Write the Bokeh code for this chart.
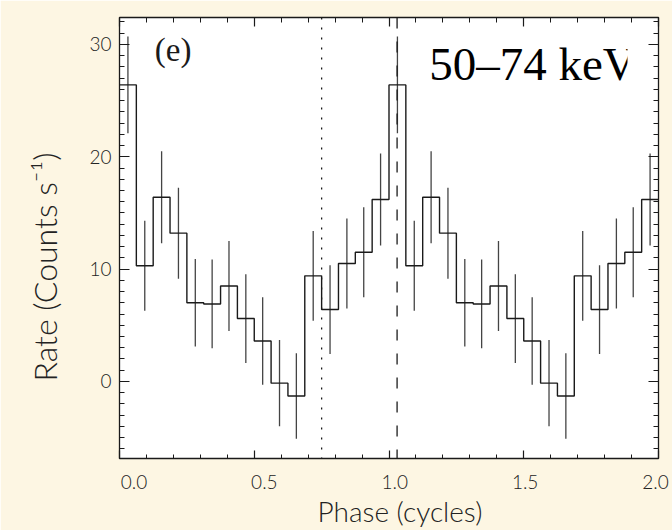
import numpy as np
from bokeh.plotting import figure
from bokeh.models import (Range1d, LinearAxis, FixedTicker, Span, Label, Title,
                          BoxAnnotation, ColumnDataSource, CustomLabelingPolicy)
from bokeh.embed import file_html
from bokeh.resources import INLINE

# ---- data (one pulse cycle, 16 phase bins; shown twice) ----
rate = [26.4, 10.3, 16.4, 13.2, 7.0, 6.9, 8.5, 5.6,
        3.6, -0.15, -1.3, 9.4, 6.4, 10.5, 11.5, 16.2]
rate_err = [4.3, 4.0, 4.1, 4.05, 3.9, 3.95, 4.0, 3.95,
            3.9, 3.85, 3.8, 4.0, 3.95, 4.0, 4.0, 4.1]
n_cycles = 2
marker_phase = [0.75, 1.03]          # dotted, dashed reference lines
x_tick_values = [0.0, 0.5, 1.0, 1.5, 2.0]
x_tick_labels = ["0.0", "0.5", "1.0", "1.5", "2.0"]
y_tick_values = [0, 10, 20, 30]
x_title = "Phase (cycles)"
y_title = "Rate (Counts s\u207b\u00b9)"
panel_label = "(e)"
band_label = "50\u201374 keV"

# ---- derived ----
nb = len(rate)
vals = np.tile(rate, n_cycles)
errs = np.tile(rate_err, n_cycles)
edges = np.arange(nb * n_cycles + 1) / nb
centers = (np.arange(nb * n_cycles) + 0.5) / nb

CREAM = "#fdf6e3"
INK = "#1a1a1a"
TXT = "#222222"
SANS = "Lato Light"
SERIF = "Liberation Serif"

p = figure(width=672, height=530, output_backend="svg", toolbar_location=None,
           x_range=Range1d(0, 2), y_range=Range1d(-6.86, 32.4),
           x_axis_location=None, y_axis_location=None,
           min_border_left=118, min_border_right=14,
           min_border_top=17, min_border_bottom=72,
           border_fill_color=CREAM, background_fill_color="white",
           outline_line_color=INK, outline_line_width=1.3)
p.grid.visible = False

no_labels = CustomLabelingPolicy(code="for (const i of indices) { indices.unset(i) } return indices")

def style_ticks(ax, major_in, minor_in):
    ax.axis_line_color = None
    ax.major_tick_in = major_in
    ax.major_tick_out = 0
    ax.minor_tick_in = minor_in
    ax.minor_tick_out = 0
    ax.major_tick_line_color = INK
    ax.minor_tick_line_color = INK
    ax.major_tick_line_width = 1.2
    ax.minor_tick_line_width = 1.0

def hide_labels(ax):
    ax.major_label_policy = no_labels
    ax.major_label_text_font_size = "1px"
    ax.major_label_standoff = 0

y_minor = list(range(-6, 33))
x_minor = [i / 10 for i in range(21)]

left = LinearAxis(ticker=FixedTicker(ticks=y_tick_values, minor_ticks=y_minor))
style_ticks(left, 10, 5)
left.major_label_text_font = SANS
left.major_label_text_font_size = "19px"
left.major_label_text_color = TXT
left.major_label_standoff = 8
p.add_layout(left, "left")

right = LinearAxis(ticker=FixedTicker(ticks=y_tick_values, minor_ticks=y_minor))
style_ticks(right, 10, 5)
hide_labels(right)
p.add_layout(right, "right")

top = LinearAxis(ticker=FixedTicker(ticks=x_tick_values, minor_ticks=x_minor))
style_ticks(top, 9, 5)
hide_labels(top)
p.add_layout(top, "above")

bottom = LinearAxis(ticker=FixedTicker(ticks=x_tick_values, minor_ticks=x_minor))
style_ticks(bottom, 8, 4)
hide_labels(bottom)
p.add_layout(bottom, "below")

# label axis (labels of the reference sit on a slightly different scale)
p.extra_x_ranges = {"outer": Range1d(-0.0555, 2.0115)}
lab = LinearAxis(x_range_name="outer", ticker=FixedTicker(ticks=x_tick_values, minor_ticks=[]),
                 major_label_overrides=dict(zip(x_tick_values, x_tick_labels)))
lab.axis_line_color = None
lab.major_tick_line_color = None
lab.minor_tick_line_color = None
lab.major_tick_in = 0
lab.major_tick_out = 0
lab.major_label_text_font = SANS
lab.major_label_text_font_size = "19px"
lab.major_label_text_color = TXT
lab.major_label_standoff = 12
p.add_layout(lab, "below")

# axis titles (as side titles so they can be placed like the reference)
p.add_layout(Title(text=x_title, align="left", offset=198, standoff=0,
                   text_font=SANS, text_font_size="28px", text_font_style="normal",
                   text_color=TXT), "below")
p.add_layout(Title(text=y_title, align="left", offset=77, standoff=45,
                   text_font=SANS, text_font_size="32px", text_font_style="normal",
                   text_color=TXT), "left")

# histogram + error bars
src = ColumnDataSource(dict(x=centers, lo=vals - errs, hi=vals + errs))
p.segment(x0="x", y0="lo", x1="x", y1="hi", source=src,
          line_color="#444444", line_width=1.3)
p.step(x=edges, y=np.append(vals, vals[-1]), mode="after",
       line_color=INK, line_width=1.4)

# reference phase lines
p.add_layout(Span(location=marker_phase[0], dimension="height",
                  line_color=INK, line_width=1.3, line_dash="2 8"))
p.add_layout(Span(location=marker_phase[1], dimension="height",
                  line_color=INK, line_width=1.3, line_dash="11 13"))

# texts
p.add_layout(Label(x=0.131, y=27.9, text=panel_label, text_font=SERIF,
                   text_font_size="33px", text_color=INK))
p.add_layout(Label(x=1.149, y=25.95, text=band_label, text_font=SERIF,
                   text_font_size="47px", text_color="black"))
# the reference crops the last letter
p.add_layout(BoxAnnotation(left=627, right=646, top=40, bottom=95,
                           left_units="canvas", right_units="canvas",
                           top_units="canvas", bottom_units="canvas",
                           fill_color="white", fill_alpha=1.0,
                           line_color=None, level="overlay"))

open("out.html", "w").write(file_html(p, INLINE))
